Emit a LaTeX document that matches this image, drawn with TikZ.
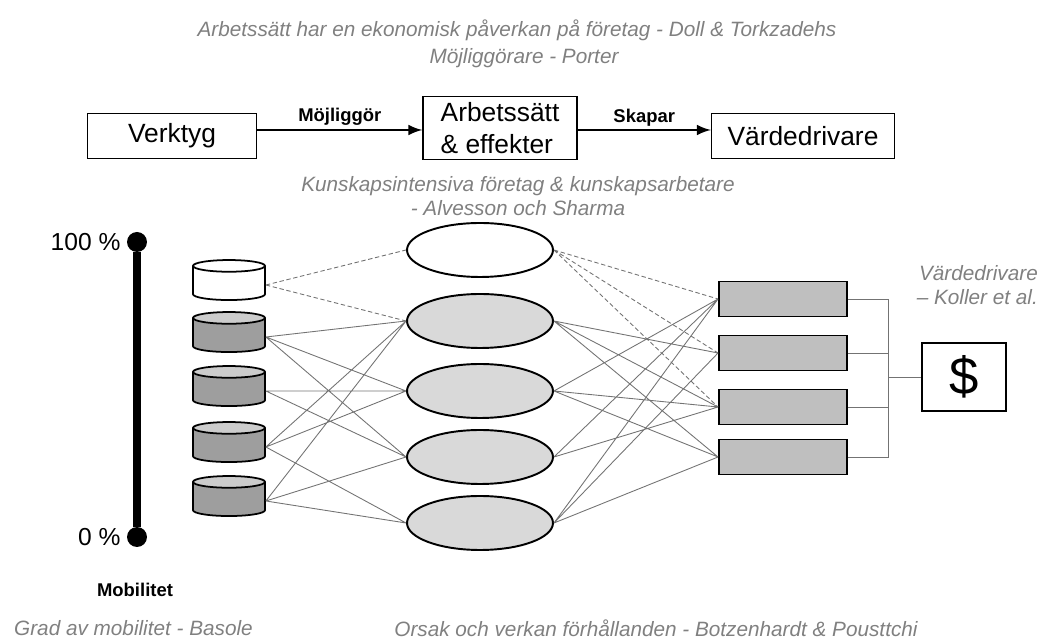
\documentclass[tikz,border=0pt]{standalone}
\usepackage{fontspec}
\setmainfont{Liberation Sans}
\usetikzlibrary{shapes.geometric}

\definecolor{notegray}{gray}{0.5}
\definecolor{linegray}{gray}{0.45}
\definecolor{tankbody}{gray}{0.62}
\definecolor{tanktop}{gray}{0.80}
\definecolor{effectfill}{gray}{0.85}
\definecolor{driverfill}{gray}{0.75}

\tikzstyle{box} = [draw, line width=0.8pt, minimum height=0.9cm, font=\fontsize{15}{18.5}\selectfont]
\tikzstyle{note} = [text=notegray, font=\fontsize{11.8}{14}\selectfont\itshape, align=center]
\tikzstyle{flow} = [->, >=latex, line width=1.7pt]
\tikzstyle{flowlabel} = [above, inner sep=1.5pt, font=\fontsize{10.5}{12}\selectfont\bfseries]
\tikzstyle{tank} = [cylinder, shape border rotate=90, draw, line width=1pt, aspect=1,
    minimum width=1.44cm, minimum height=0.8cm, cylinder uses custom fill,
    cylinder body fill=tankbody, cylinder end fill=tanktop]
\tikzstyle{emptytank} = [tank, cylinder body fill=white, cylinder end fill=white]
\tikzstyle{effect} = [ellipse, draw, line width=1.1pt, fill=effectfill, minimum width=2.92cm, minimum height=1.08cm]
\tikzstyle{driver} = [rectangle, draw, line width=1.1pt, fill=driverfill, minimum width=2.56cm, minimum height=0.7cm]
\tikzstyle{link} = [draw=linegray, line width=0.5pt]
\tikzstyle{maybe} = [link, dash pattern=on 2.5pt off 1.5pt]
\tikzstyle{dot} = [circle, fill, inner sep=0pt, minimum size=0.4cm]
\tikzstyle{percent} = [font=\fontsize{14}{16}\selectfont]

\begin{document}
\begin{tikzpicture}[x=0.02cm, y=-0.02cm]
\useasboundingbox (0,0) rectangle (1048,644);

% top row
\node[note] (doll) at (517,30) {Arbetssätt har en ekonomisk påverkan på företag - Doll \& Torkzadehs};
\node[note] (porter) at (524,58) {Möjliggörare - Porter};
\node[box, minimum width=3.38cm] (verktyg) at (172,136) {Verktyg};
\node[box, minimum width=3.08cm, minimum height=1.26cm, align=left] (arbete) at (500,128) {Arbetssätt\\\& effekter};
\node[box, minimum width=3.66cm] (varde) at (803,136) {Värdedrivare};
\draw[flow] ([yshift=0.12cm]verktyg.east) -- ([yshift=0.12cm]verktyg.east -| arbete.west)
    node[flowlabel, midway] {Möjliggör};
\draw[flow] ([yshift=0.12cm]varde.west -| arbete.east) -- ([yshift=0.12cm]varde.west)
    node[flowlabel, midway] {Skapar};
\node[note] (alvesson) at (518,196) {Kunskapsintensiva företag \& kunskapsarbetare\\- Alvesson och Sharma};

% mobilitet
\node[dot] (high) at (137,242) {};
\node[dot] (low) at (137,537) {};
\draw[line width=5pt] (high) -- (low);
\node[percent, anchor=east] (hightext) at (high.west) {100 \%};
\node[percent, anchor=east] (lowtext) at (low.west) {0 \%};
\node[font=\fontsize{10.5}{12}\selectfont\bfseries] (mobil) at (135,590) {Mobilitet};
\node[note, anchor=west] (basole) at (8,628) {Grad av mobilitet - Basole};

% verktyg
\node[emptytank] (c1) at (229,285) {};
\node[tank] (c2) at (229,337) {};
\node[tank] (c3) at (229,391) {};
\node[tank] (c4) at (229,447) {};
\node[tank] (c5) at (229,501) {};

% arbetssatt
\node[effect, fill=white] (e1) at (480,250) {};
\node[effect] (e2) at (480,321) {};
\node[effect] (e3) at (480,391) {};
\node[effect] (e4) at (480,457) {};
\node[effect] (e5) at (480,523) {};

% vardedrivare
\node[driver] (r1) at (783,299) {};
\node[driver] (r2) at (783,353) {};
\node[driver] (r3) at (783,407) {};
\node[driver] (r4) at (783,457) {};

\node[draw, line width=0.9pt, minimum width=1.68cm, minimum height=1.36cm, font=\fontsize{30}{32}\selectfont] (dollar) at (964,377) {\$};
\node[note, anchor=east, align=right] (koller) at (1044,285) {Värdedrivare\\-- Koller et al.};
\node[note] (botz) at (656,628) {Orsak och verkan förhållanden - Botzenhardt \& Pousttchi};

% links
\draw[maybe] (c1.east) -- (e1.west) (c1.east) -- (e2.west)
    (e1.east) -- (r1.west) (e1.east) -- (r2.west) (e1.east) -- (r3.west);
\draw[link] (c2.east) -- (e2.west) (c2.east) -- (e3.west) (c2.east) -- (e4.west)
    (c3.east) -- (e3.west) (c3.east) -- (e4.west)
    (c4.east) -- (e2.west) (c4.east) -- (e3.west) (c4.east) -- (e5.west)
    (c5.east) -- (e2.west) (c5.east) -- (e4.west) (c5.east) -- (e5.west);
\draw[link] (e2.east) -- (r2.west) (e2.east) -- (r3.west) (e2.east) -- (r4.west)
    (e3.east) -- (r1.west) (e3.east) -- (r3.west) (e3.east) -- (r4.west)
    (e4.east) -- (r1.west) (e4.east) -- (r3.west)
    (e5.east) -- (r1.west) (e5.east) -- (r2.west) (e5.east) -- (r4.west);

% bracket
\coordinate (rail) at (888,377);
\draw[link] (r1.east) -- (r1.east -| rail) -- (r4.east -| rail) -- (r4.east)
    (r2.east) -- (r2.east -| rail) (r3.east) -- (r3.east -| rail)
    (rail) -- (dollar.west);
\end{tikzpicture}
\end{document}
